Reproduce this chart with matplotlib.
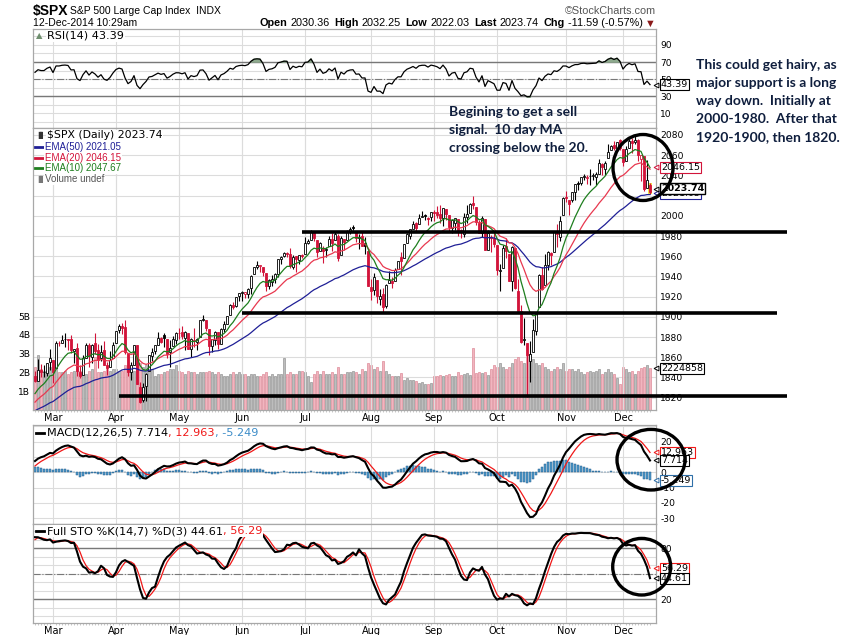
import numpy as np
import pandas as pd
import matplotlib
matplotlib.use("Agg")
import matplotlib.pyplot as plt
from matplotlib.patches import Ellipse
from matplotlib.lines import Line2D
from matplotlib.transforms import blended_transform_factory

plt.rcParams['font.family'] = ['DejaVu Sans']

# ---- warm-up closes (Oct 2013 - Feb 20 2014), only used to settle the indicators
warm_close = [1695.00, 1693.87, 1678.66, 1690.50, 1676.12, 1655.45, 1656.40, 1692.56, 1703.20, 1710.14, 1698.06,
              1721.54, 1733.15, 1744.50, 1744.66, 1754.67, 1746.38, 1752.07, 1759.77, 1762.11, 1771.95, 1763.31, 1756.54,
              1761.64, 1767.93, 1762.97, 1770.49, 1747.15, 1770.61, 1771.89, 1767.69, 1782.00, 1790.62, 1798.18,
              1791.53, 1787.87, 1781.37, 1795.85, 1804.76, 1802.48, 1802.75, 1807.23, 1805.81,
              1800.90, 1795.15, 1792.81, 1785.03, 1805.09, 1808.37, 1802.62, 1782.22, 1775.50, 1775.32, 1786.54,
              1781.00, 1810.65, 1809.60, 1818.32, 1827.99, 1833.32, 1842.02, 1841.40, 1841.07, 1848.36,
              1831.98, 1831.37, 1826.77, 1837.88, 1837.49, 1838.13, 1842.37, 1819.20, 1838.88, 1848.38, 1845.89,
              1838.70, 1843.80, 1844.86, 1828.46, 1790.29, 1781.56, 1792.50, 1774.20, 1794.19, 1782.59,
              1741.89, 1755.20, 1751.64, 1773.43, 1797.02, 1799.84, 1819.75, 1819.26, 1829.83, 1838.63, 1840.76,
              1828.75, 1839.78]
# highs / lows for the last 34 warm-up days (Jan 2 - Feb 20)
warm_high = [1845.86, 1838.24, 1837.16, 1840.10, 1840.02, 1843.23, 1843.15, 1843.45, 1839.26, 1850.84, 1849.31,
             1846.50, 1849.31, 1846.87, 1842.99, 1826.96, 1795.98, 1793.87, 1788.06, 1798.77, 1793.88,
             1784.83, 1758.73, 1755.79, 1774.06, 1798.03, 1799.94, 1823.54, 1826.56, 1830.25, 1841.65, 1842.87,
             1847.50, 1842.40]
warm_low = [1827.74, 1829.13, 1823.73, 1828.71, 1831.40, 1830.38, 1832.43, 1815.52, 1819.20, 1840.28, 1842.41,
            1835.23, 1832.38, 1840.88, 1820.06, 1790.29, 1772.88, 1781.82, 1770.45, 1783.54, 1772.26,
            1739.66, 1743.82, 1737.92, 1752.63, 1773.19, 1791.83, 1800.41, 1815.97, 1809.22, 1825.59, 1834.44,
            1826.99, 1824.92]

# ---- chart window: 21-Feb-2014 .. 12-Dec-2014
opens = [1841.07, 1836.78, 1847.66, 1845.79, 1844.90, 1855.12,
         1857.68, 1849.23, 1874.05, 1874.18, 1878.52, 1877.86, 1878.26, 1866.15, 1869.06, 1845.07, 1842.81,
         1858.92, 1872.25, 1860.09, 1874.53, 1867.67, 1859.48, 1867.09, 1852.11, 1850.07, 1859.16,
         1873.96, 1886.61, 1891.43, 1890.25, 1863.92, 1845.48, 1852.64, 1872.28, 1830.65, 1818.18, 1831.45,
         1846.01, 1861.73, 1865.79, 1872.57, 1879.32, 1881.97, 1877.72, 1865.00, 1870.78, 1877.10,
         1884.39, 1885.30, 1879.45, 1883.69, 1868.53, 1877.39, 1875.27, 1880.03, 1896.75, 1897.13, 1888.16,
         1871.19, 1876.66, 1884.88, 1873.34, 1888.19, 1893.32, 1902.01, 1911.77, 1910.60, 1920.33,
         1923.87, 1923.07, 1923.06, 1928.52, 1942.41, 1948.97, 1950.34, 1949.37, 1943.35, 1930.80, 1934.84,
         1937.15, 1942.73, 1957.50, 1960.45, 1962.92, 1961.97, 1949.27, 1959.89, 1956.56, 1960.79,
         1962.29, 1973.06, 1975.88, 1984.22, 1976.39, 1965.10, 1966.67, 1965.76, 1969.86, 1977.36, 1976.35,
         1979.75, 1961.54, 1976.93, 1975.65, 1985.32, 1988.07, 1984.60, 1978.25, 1980.03, 1973.21, 1965.14,
         1929.80, 1926.62, 1936.34, 1917.29, 1923.03, 1910.35, 1933.43, 1935.73, 1935.60, 1947.41, 1958.87,
         1958.36, 1972.73, 1980.46, 1986.82, 1992.60, 1991.74, 1998.59, 2000.54, 1997.42, 1998.45,
         2004.07, 2003.57, 2001.67, 1998.00, 2007.17, 2000.73, 1988.41, 1992.85, 1996.74, 1986.04, 1981.93,
         1999.30, 2003.07, 2012.74, 2009.08, 1992.78, 1983.34, 1997.32, 1966.22, 1978.96, 1978.21,
         1971.44, 1945.83, 1948.12, 1970.01, 1962.36, 1935.55, 1967.68, 1925.63, 1905.65, 1877.11, 1874.18,
         1855.95, 1864.91, 1885.62, 1909.38, 1941.29, 1931.02, 1951.59, 1962.97, 1964.14, 1983.29, 1979.49, 2001.20,
         2018.21, 2015.81, 2015.29, 2023.33, 2032.36, 2032.01, 2038.20, 2037.75, 2039.21, 2039.74, 2038.29,
         2041.48, 2051.16, 2045.87, 2057.46, 2065.07, 2070.15, 2067.36, 2074.78,
         2065.78, 2053.77, 2067.45, 2073.64, 2072.78, 2074.84, 2056.55, 2058.86, 2027.92, 2030.36]
highs = [1846.13, 1858.71, 1852.91, 1852.65, 1854.53, 1867.92,
         1857.68, 1876.23, 1876.53, 1881.94, 1883.57, 1877.87, 1882.35, 1868.38, 1874.40, 1852.44, 1862.30,
         1873.76, 1874.14, 1873.49, 1883.97, 1873.34, 1871.87, 1875.92, 1855.55, 1866.63, 1875.18,
         1885.84, 1893.17, 1893.80, 1897.28, 1864.04, 1854.95, 1872.43, 1872.53, 1835.07, 1834.19, 1844.02,
         1862.31, 1869.63, 1871.89, 1884.89, 1879.75, 1884.06, 1877.72, 1877.01, 1880.60, 1885.20,
         1888.59, 1891.33, 1885.51, 1883.69, 1878.83, 1889.07, 1878.57, 1897.13, 1902.17, 1897.13, 1888.16,
         1878.28, 1886.00, 1884.88, 1888.80, 1896.33, 1901.26, 1912.28, 1914.46, 1920.03, 1924.03,
         1925.88, 1925.07, 1928.63, 1941.74, 1949.44, 1955.55, 1950.86, 1949.37, 1943.35, 1937.30, 1941.15,
         1943.69, 1957.74, 1959.87, 1963.91, 1963.74, 1968.17, 1960.83, 1959.89, 1961.47, 1962.29,
         1978.58, 1976.67, 1985.59, 1984.22, 1976.39, 1974.15, 1969.84, 1968.67, 1979.85, 1982.52, 1983.94,
         1981.80, 1979.91, 1976.93, 1986.24, 1989.23, 1991.39, 1984.60, 1981.52, 1984.85, 1978.90, 1965.14,
         1937.35, 1942.92, 1936.34, 1927.91, 1928.89, 1932.38, 1944.90, 1939.65, 1948.41, 1955.23, 1964.04,
         1971.99, 1982.57, 1986.61, 1994.76, 1993.54, 2001.95, 2005.04, 2002.14, 1998.55, 2003.38,
         2006.12, 2009.28, 2011.17, 2007.71, 2007.17, 2001.01, 1996.66, 1997.65, 1996.74, 1987.18, 2002.28,
         2010.74, 2012.34, 2019.26, 2009.08, 1995.41, 1999.79, 1997.32, 1986.37, 1981.28, 1985.17,
         1971.44, 1952.32, 1971.19, 1977.84, 1962.36, 1970.36, 1967.68, 1936.98, 1912.09, 1898.71, 1874.18,
         1876.01, 1898.16, 1905.03, 1942.45, 1949.31, 1961.95, 1965.27, 1964.64, 1985.05, 1991.40, 1999.40, 2018.19,
         2024.46, 2015.98, 2023.77, 2031.61, 2034.26, 2038.70, 2041.28, 2040.33, 2046.18, 2042.22, 2043.07,
         2056.08, 2052.14, 2053.84, 2071.46, 2070.17, 2074.21, 2073.29, 2075.76,
         2065.78, 2068.77, 2076.28, 2077.34, 2079.47, 2075.78, 2060.60, 2058.86, 2055.53, 2032.25]
lows = [1835.60, 1836.78, 1840.19, 1840.66, 1841.13, 1847.67,
        1834.44, 1849.23, 1871.11, 1874.18, 1870.56, 1867.04, 1863.88, 1854.38, 1841.86, 1839.57, 1842.81,
        1858.92, 1850.35, 1854.63, 1863.46, 1849.69, 1855.96, 1852.56, 1842.11, 1850.07, 1859.16,
        1873.96, 1883.79, 1882.65, 1863.26, 1841.48, 1837.49, 1852.38, 1833.08, 1814.36, 1815.80, 1816.29,
        1846.01, 1856.72, 1863.18, 1872.57, 1873.91, 1870.24, 1859.70, 1850.61, 1870.78, 1872.69,
        1878.04, 1878.50, 1866.77, 1867.72, 1859.79, 1870.05, 1867.02, 1880.03, 1896.06, 1885.77, 1862.36,
        1864.82, 1872.42, 1868.14, 1873.34, 1885.39, 1893.32, 1902.01, 1907.30, 1909.82, 1915.65,
        1915.98, 1918.79, 1918.60, 1922.93, 1942.41, 1947.16, 1944.64, 1940.08, 1925.78, 1927.69, 1930.91,
        1933.55, 1939.29, 1952.26, 1959.17, 1958.89, 1948.34, 1947.49, 1944.69, 1952.18, 1957.83,
        1962.29, 1972.58, 1975.88, 1974.88, 1959.46, 1965.10, 1952.86, 1959.63, 1969.86, 1965.34, 1975.67,
        1955.59, 1960.82, 1965.77, 1975.65, 1982.44, 1985.79, 1974.37, 1967.31, 1969.95, 1962.42, 1930.67,
        1916.37, 1921.20, 1913.77, 1911.45, 1904.78, 1909.01, 1933.43, 1928.29, 1935.60, 1947.41, 1941.50,
        1958.36, 1972.73, 1976.67, 1986.82, 1984.76, 1991.74, 1998.59, 1996.20, 1990.52, 1994.65,
        1994.85, 1998.14, 1992.54, 1990.10, 1995.60, 1984.61, 1982.99, 1985.93, 1980.26, 1978.48, 1979.06,
        1993.29, 2003.07, 2006.59, 1991.01, 1982.77, 1978.63, 1965.99, 1966.22, 1964.04, 1968.96,
        1941.72, 1926.03, 1948.12, 1958.43, 1935.10, 1925.25, 1927.56, 1906.05, 1874.14, 1871.79, 1820.66,
        1835.02, 1864.91, 1882.30, 1909.38, 1926.83, 1931.02, 1946.27, 1951.37, 1964.14, 1969.04, 1974.75, 2001.20,
        2013.68, 2001.01, 2014.11, 2015.86, 2025.07, 2030.17, 2035.28, 2031.95, 2030.44, 2035.20, 2030.20,
        2041.48, 2040.37, 2040.49, 2056.75, 2065.07, 2064.75, 2066.62, 2065.06,
        2049.57, 2053.77, 2066.65, 2062.34, 2070.81, 2054.27, 2034.17, 2024.26, 2027.92, 2022.03]
closes = [1836.25, 1847.61, 1845.12, 1845.16, 1854.29, 1859.45,
          1845.73, 1873.91, 1873.81, 1877.03, 1878.04, 1877.17, 1867.63, 1868.20, 1846.34, 1841.13, 1858.83,
          1872.25, 1860.77, 1872.01, 1866.52, 1857.44, 1865.62, 1852.56, 1849.04, 1857.62, 1872.34,
          1885.52, 1890.90, 1888.77, 1865.09, 1845.04, 1851.96, 1872.18, 1833.08, 1815.69, 1830.61, 1842.98,
          1862.31, 1864.85, 1871.89, 1879.55, 1875.39, 1878.61, 1863.40, 1869.43, 1878.33, 1883.95,
          1883.68, 1881.14, 1884.66, 1867.72, 1878.21, 1875.63, 1878.48, 1896.65, 1897.45, 1888.53, 1870.85,
          1877.86, 1885.08, 1872.83, 1888.03, 1892.49, 1900.53, 1911.91, 1909.78, 1920.03, 1923.57,
          1924.97, 1924.24, 1927.88, 1940.46, 1949.44, 1951.27, 1950.79, 1943.89, 1930.11, 1936.16, 1937.78,
          1941.99, 1956.98, 1959.48, 1962.87, 1962.61, 1949.98, 1959.53, 1957.22, 1960.96, 1960.23,
          1973.32, 1974.62, 1985.44, 1977.65, 1963.71, 1972.83, 1964.68, 1967.57, 1977.10, 1973.28, 1981.57,
          1958.12, 1978.22, 1973.63, 1983.53, 1987.01, 1987.98, 1978.34, 1978.91, 1969.95, 1970.07, 1930.67,
          1925.15, 1938.99, 1920.21, 1920.24, 1909.57, 1931.59, 1936.92, 1933.75, 1946.72, 1955.18, 1955.06,
          1971.74, 1981.60, 1986.51, 1992.37, 1988.40, 1997.92, 2000.02, 2000.12, 1996.74, 2003.37,
          2002.28, 2000.72, 1997.65, 2007.71, 2001.54, 1988.44, 1995.69, 1997.45, 1985.54, 1984.13, 1998.98,
          2001.57, 2011.36, 2010.40, 1994.29, 1982.77, 1998.30, 1965.99, 1982.85, 1977.80, 1972.29,
          1946.16, 1946.17, 1967.90, 1964.82, 1935.10, 1968.89, 1928.21, 1906.13, 1874.74, 1877.70, 1862.49,
          1862.76, 1886.76, 1904.01, 1941.28, 1927.11, 1950.82, 1964.58, 1961.63, 1985.05, 1982.30, 1994.65, 2018.05,
          2017.81, 2012.10, 2023.57, 2031.21, 2031.92, 2038.26, 2039.68, 2038.25, 2039.33, 2039.82, 2041.32,
          2051.80, 2048.72, 2052.75, 2063.50, 2069.41, 2067.03, 2072.83, 2067.56,
          2053.44, 2066.55, 2074.33, 2071.92, 2075.37, 2060.31, 2059.82, 2026.14, 2035.33, 2023.74]
# volume in billions
volume = [2.3, 2.9, 2.2, 2.1, 2.1, 2.3,
          2.2, 2.3, 2.0, 2.0, 2.1, 1.9, 2.0, 2.1, 2.2, 2.1, 2.0, 1.9, 2.1, 2.2, 2.8, 2.0, 2.0, 2.1, 2.2, 2.1, 2.2,
          2.2, 2.1, 2.1, 2.4, 2.4, 2.2, 2.1, 2.5, 2.5, 2.3, 2.4, 2.3, 2.2, 1.8, 1.9, 1.9, 2.0, 2.1, 2.2, 2.2, 2.4,
          2.1, 2.0, 1.9, 2.1, 2.0, 2.0, 1.9, 2.0, 2.0, 2.0, 2.1, 2.0, 1.9, 2.0, 1.9, 1.8, 1.8, 1.9, 2.0, 1.9, 2.0,
          1.9, 1.9, 1.8, 1.9, 1.9, 1.8, 1.8, 1.9, 2.0, 1.8, 1.9, 1.8, 1.9, 1.9, 2.75, 1.9, 2.0, 1.9, 1.9, 2.1, 2.1,
          2.0, 1.8, 1.5, 1.9, 2.1, 1.9, 2.1, 1.9, 1.9, 2.0, 1.9, 2.3, 1.9, 1.9, 2.0, 2.0, 2.1, 2.0, 1.9, 2.2, 2.1, 2.5,
          2.4, 2.2, 2.3, 2.1, 2.6, 2.1, 1.9, 1.8, 1.8, 1.8, 1.95, 1.6, 1.7, 1.6, 1.6, 1.55, 1.45, 1.5, 1.4, 1.4, 1.45,
          1.8, 1.8, 1.85, 1.8, 1.85, 1.9, 1.8, 1.8, 2.0, 1.85, 1.9, 1.95, 1.85, 3.28, 1.95, 2.0, 1.95, 2.0, 1.85, 2.2, 2.4,
          2.3, 2.5, 2.3, 2.2, 2.3, 2.5, 2.7, 2.8, 2.6, 2.5, 2.9, 3.0, 2.7, 2.5, 2.4, 2.5, 2.3, 2.2, 2.1, 2.2, 2.3, 2.2, 2.5,
          2.1, 2.2, 2.2, 2.1, 2.2, 2.0, 1.9, 2.0, 2.1, 2.0, 2.1, 2.2, 1.9, 2.0, 2.2, 2.0, 1.9, 1.7, 1.4,
          2.3, 2.2, 2.0, 2.1, 1.9, 2.1, 2.25, 2.3, 2.4, 2.2249]

holidays = ['2014-04-18', '2014-05-26', '2014-07-04', '2014-09-01', '2014-11-27']
dates = pd.bdate_range('2014-02-21', '2014-12-12')
dates = dates[~dates.isin(pd.to_datetime(holidays))]

# last values as printed on the chart
rsi_last = 43.39
ema_last = {50: 2021.05, 20: 2046.15, 10: 2047.67}
macd_last = [7.714, 12.963, -5.249]
sto_last = [44.61, 56.29]
support_levels = [1984, 1904, 1822]
support_from = ['2014-06-30', '2014-06-02', '2014-04-02']

# ---- indicators
nw = len(warm_close)
full = pd.DataFrame({
    'close': warm_close + closes,
    'high': [np.nan] * (nw - len(warm_high)) + warm_high + highs,
    'low': [np.nan] * (nw - len(warm_low)) + warm_low + lows,
})
c = full['close']
n = len(closes)
ema = {p: c.ewm(span=p, adjust=False).mean().values[-n:] for p in (10, 20, 50)}
d = c.diff()
gain = d.clip(lower=0).ewm(alpha=1 / 14, adjust=False).mean()
loss = (-d.clip(upper=0)).ewm(alpha=1 / 14, adjust=False).mean()
rsi = (100 - 100 / (1 + gain / loss)).values[-n:]
macd_s = c.ewm(span=12, adjust=False).mean() - c.ewm(span=26, adjust=False).mean()
sig_s = macd_s.ewm(span=5, adjust=False).mean()
macd = macd_s.values[-n:]
sig = sig_s.values[-n:]
hist = macd - sig
hh = full['high'].rolling(14).max()
ll = full['low'].rolling(14).min()
fastk = 100 * (c - ll) / (hh - ll)
pk = fastk.rolling(7).mean()
pd3 = pk.rolling(3).mean()
stok = pk.values[-n:]
stod = pd3.values[-n:]

o = np.array(opens); h = np.array(highs); l = np.array(lows); cl = np.array(closes)
prevc = c.values[-n - 1:-1]
x = np.arange(n)

RED = '#D2143A'
NAVY = '#1F1F96'
EMARED = '#E8384F'
GREEN = '#1E7E1E'
GRID = '#DCDCDC'
EDGE = '#A8A8A8'

W, H = 845, 635
fig = plt.figure(figsize=(W / 100, H / 100), dpi=100)


def rect(top, bottom):
    return [33 / W, 1 - bottom / H, (656 - 33) / W, (bottom - top) / H]


def fy(ypx):
    return 1 - ypx / H


month_idx = [i for i in range(1, n) if dates[i].month != dates[i - 1].month]
month_lab = [dates[i].strftime('%b') for i in month_idx]
XL = (-0.67, 207)


def base(ax, ylim, grid_levels, ticks, labels=None):
    ax.set_xlim(*XL)
    ax.set_ylim(*ylim)
    for s in ax.spines.values():
        s.set_color(EDGE)
        s.set_linewidth(0.9)
    for m in month_idx:
        ax.axvline(m, color=GRID, lw=0.8, zorder=0)
    for g in grid_levels:
        ax.axhline(g, color=GRID, lw=0.8, zorder=0)
    ax.yaxis.tick_right()
    ax.set_yticks(ticks)
    ax.set_yticklabels(labels if labels else [str(t) for t in ticks])
    ax.tick_params(axis='y', length=0, labelsize=6.6, pad=3)
    ax.set_xticks(month_idx)
    ax.set_xticklabels(month_lab)
    ax.tick_params(axis='x', length=0, labelsize=7, pad=2)
    ax.set_xticks(x, minor=True)
    ax.tick_params(axis='x', which='minor', length=1.5, width=0.5, color='#B0B0B0')


def tag(ax, val, text, ec, bold=False, ytrans=None):
    tr = blended_transform_factory(ax.transAxes, ytrans if ytrans is not None else ax.transData)
    ax.annotate(text, xy=(1.0, val), xycoords=tr, xytext=(3.5, 0), textcoords='offset points',
                ha='left', va='center', fontsize=6.8, fontweight='bold' if bold else 'normal',
                bbox=dict(boxstyle='square,pad=0.12', fc='white', ec=ec, lw=1.0 if bold else 0.8),
                annotation_clip=False, zorder=6)
    ax.plot([1.0], [val], marker='<', ms=3.5, mfc='white', mec=ec, mew=0.7, transform=tr,
            clip_on=False, zorder=7)


# ---- RSI panel
ax_rsi = fig.add_axes(rect(29, 128))
base(ax_rsi, (-7.6, 108.8), range(0, 101, 10), [10, 30, 50, 70, 90])
ax_rsi.set_xticklabels([])
ax_rsi.tick_params(axis='x', which='minor', length=0)
ax_rsi.axhline(70, color='#787878', lw=1.0, zorder=1)
ax_rsi.axhline(30, color='#787878', lw=1.0, zorder=1)
ax_rsi.axhline(50, color='#787878', lw=0.8, ls='-.', zorder=1)
ax_rsi.fill_between(x, rsi, 70, where=rsi > 70, interpolate=True, color='#8DA98D', zorder=2)
ax_rsi.fill_between(x, rsi, 30, where=rsi < 30, interpolate=True, color='#8DA98D', zorder=2)
ax_rsi.plot(x, rsi, color='black', lw=0.9, zorder=3)
tag(ax_rsi, rsi_last, f'{rsi_last:.2f}', 'black')

# ---- volume (under the price panel)
ax_vol = fig.add_axes(rect(128, 410))
ax_vol.set_xlim(*XL)
ax_vol.set_ylim(0, 15.0)
vol_up = cl >= prevc
ax_vol.bar(x, volume, width=0.85, color=np.where(vol_up, '#BDBDBD', '#F1B5BF'),
           edgecolor=np.where(vol_up, '#979797', '#DE8C9A'), linewidth=0.5, zorder=1)
ax_vol.set_yticks([1, 2, 3, 4, 5])
ax_vol.set_yticklabels(['1B', '2B', '3B', '4B', '5B'])
ax_vol.tick_params(axis='y', length=0, labelsize=6.6, pad=2)
ax_vol.set_xticks([])
for s in ax_vol.spines.values():
    s.set_visible(False)
for m in month_idx:
    ax_vol.axvline(m, color=GRID, lw=0.8, zorder=0)
for g in range(1820, 2081, 20):
    ax_vol.axhline((g - 1807.8) / (2086.9 - 1807.8) * 15.0, color=GRID, lw=0.8, zorder=0)

# ---- price panel
ax_px = fig.add_axes(rect(128, 410))
ax_px.patch.set_visible(False)
base(ax_px, (1807.8, 2086.9), [], list(range(1820, 2081, 20)))
col = np.where(cl < prevc, RED, 'black')
hollow = cl >= o
ax_px.vlines(x, l, h, colors=col, lw=0.8, zorder=3)
ax_px.bar(x[-1], abs(cl[-1] - o[-1]) + 4, bottom=min(cl[-1], o[-1]) - 2, width=1.3, color='#F5E642', zorder=2.9)
ax_px.bar(x, np.maximum(np.abs(cl - o), 0.5), bottom=np.minimum(o, cl), width=0.72,
          color=np.where(hollow, 'white', col), edgecolor=col, linewidth=0.6, zorder=4)
ax_px.plot(x, ema[50], color=NAVY, lw=0.9, zorder=5)
ax_px.plot(x, ema[20], color=EMARED, lw=0.9, zorder=5)
ax_px.plot(x, ema[10], color=GREEN, lw=0.9, zorder=5)

for lvl, start, xend in zip(support_levels, support_from, [250.7, 247.3, 250.7]):
    xs = int(np.where(dates == pd.Timestamp(start))[0][0])
    ax_px.plot([xs, xend], [lvl, lvl], color='black', lw=2.6, solid_capstyle='butt', clip_on=False, zorder=8)

tag(ax_px, ema_last[20] + 2, f'{ema_last[20]:.2f}', RED)
tag(ax_px, ema_last[50] + 1.5, f'{ema_last[50]:.2f}', NAVY)
tag(ax_px, closes[-1] + 3, f'{closes[-1]:.2f}', 'black', bold=True)
tag(ax_px, volume[-1], '2224858', 'black', ytrans=ax_vol.transData)

# ---- MACD panel
ax_macd = fig.add_axes(rect(425, 524))
base(ax_macd, (-33.8, 30.9), range(-30, 31, 10), [20, 10, 0, -10, -20, -30])
ax_macd.set_xticklabels([])
ax_macd.tick_params(axis='x', which='minor', length=0)
ax_macd.bar(x, hist, width=0.9, color='#4F9ACB', edgecolor='#245E8C', linewidth=0.35, zorder=2)
ax_macd.plot(x, sig, color='#F01818', lw=0.9, zorder=3)
ax_macd.plot(x, macd, color='black', lw=1.5, zorder=4)
tag(ax_macd, macd_last[1], f'{macd_last[1]:.3f}', '#F01818')
tag(ax_macd, macd_last[0], f'{macd_last[0]:.3f}', 'black')
tag(ax_macd, macd_last[2], f'{macd_last[2]:.3f}', '#2F6FA8')

# ---- Full stochastics panel
ax_sto = fig.add_axes(rect(524, 623))
base(ax_sto, (-7.9, 108.6), range(0, 101, 10), [80, 50, 20])
ax_sto.axhline(80, color='#787878', lw=1.0, zorder=1)
ax_sto.axhline(20, color='#787878', lw=1.0, zorder=1)
ax_sto.axhline(50, color='#787878', lw=0.8, ls='-.', zorder=1)
ax_sto.plot(x, stod, color='#F01818', lw=0.9, zorder=3)
ax_sto.plot(x, stok, color='black', lw=1.5, zorder=4)
tag(ax_sto, sto_last[1], f'{sto_last[1]:.2f}', '#F01818')
tag(ax_sto, sto_last[0], f'{sto_last[0]:.2f}', 'black')


# ---- text
def chain(ax, pieces, x0, y0, right=False, size=7.5, family='Liberation Sans', bg=False):
    # each piece: (text, weight, colour, gap to the piece on its left)
    seq = list(reversed(pieces)) if right else pieces
    prev = None
    prev_gap = 0
    for s, wt, colr, gap in seq:
        kw = dict(fontsize=size, fontweight=wt, color=colr, family=family, va='center',
                  ha='right' if right else 'left', annotation_clip=False, zorder=9)
        if bg:
            kw['bbox'] = dict(fc='white', ec='none', pad=0.4)
        if prev is None:
            prev = ax.annotate(s, xy=(x0, H - y0), xycoords='figure pixels', **kw)
        elif right:
            prev = ax.annotate(s, xy=(0, 0.5), xycoords=prev, xytext=(-prev_gap, 0),
                               textcoords='offset points', **kw)
        else:
            prev = ax.annotate(s, xy=(1, 0.5), xycoords=prev, xytext=(gap, 0),
                               textcoords='offset points', **kw)
        prev_gap = gap


fig.text(33 / W, fy(10.5), '$SPX', fontsize=10, fontweight='bold', family='Liberation Sans', va='center')
fig.text(70 / W, fy(10.5), 'S&P 500 Large Cap Index  INDX', fontsize=7.5, family='Liberation Sans', va='center')
fig.text(33 / W, fy(23.5), '12-Dec-2014 10:29am', fontsize=7.5, family='Liberation Sans', va='center')
fig.text(656 / W, fy(10.5), '\u00a9StockCharts.com', fontsize=7.8, family='Liberation Sans', va='center',
         ha='right', color='#555555')
chain(ax_rsi, [('Open', 'bold', 'black', 0), ('2030.36', 'normal', 'black', 2.2), ('High', 'bold', 'black', 3.5),
               ('2032.25', 'normal', 'black', 2.2), ('Low', 'bold', 'black', 3.5), ('2022.03', 'normal', 'black', 2.2),
               ('Last', 'bold', 'black', 3.5), ('2023.74', 'normal', 'black', 2.2), ('Chg', 'bold', 'black', 3.5),
               ('-11.59 (-0.57%)', 'normal', 'black', 2.2), ('\u25bc', 'normal', '#8B1A1A', 1.5)],
      656, 23.5, right=True, size=7.8, family=['Liberation Sans', 'DejaVu Sans'])

LEG = 8.1
fig.text(36 / W, fy(36), '\u25b2', fontsize=6, color='#6E8E6E', va='center')
fig.text(47 / W, fy(36), 'RSI(14) 43.39', fontsize=LEG, va='center',
         bbox=dict(fc='white', ec='none', pad=0.5))
fig.text(35 / W, fy(135.5), '\u2590\u258c', fontsize=5, color='#333333', va='center')
fig.text(47 / W, fy(135.5), '$SPX (Daily) 2023.74', fontsize=7.8, va='center',
         bbox=dict(fc='white', ec='none', pad=0.5))
for yy, txt, colr in [(146.7, 'EMA(50) 2021.05', NAVY), (157.7, 'EMA(20) 2046.15', RED),
                      (168.3, 'EMA(10) 2047.67', GREEN)]:
    fig.add_artist(Line2D([35 / W, 44 / W], [fy(yy), fy(yy)], color=colr, lw=2))
    fig.text(45 / W, fy(yy), txt, fontsize=7, family='Liberation Sans', color=colr, va='center',
             bbox=dict(fc='white', ec='none', pad=0.5))
fig.text(35 / W, fy(179), '\u2590\u258c', fontsize=5, color='#777777', va='center')
fig.text(45 / W, fy(179), 'Volume undef', fontsize=7, family='Liberation Sans', color='#555555', va='center',
         bbox=dict(fc='white', ec='none', pad=0.5))

fig.add_artist(Line2D([36 / W, 44 / W], [fy(432.7), fy(432.7)], color='black', lw=2))
chain(ax_macd, [('MACD(12,26,5) 7.714', 'normal', 'black', 0), (', 12.963', 'normal', '#F01818', 0),
                (', -5.249', 'normal', '#3C8CC8', 0)], 47, 432.7, size=LEG, family='DejaVu Sans', bg=True)
fig.add_artist(Line2D([36 / W, 44 / W], [fy(531), fy(531)], color='black', lw=2))
chain(ax_sto, [('Full STO %K(14,7) %D(3) 44.61', 'normal', 'black', 0), (', 56.29', 'normal', '#F01818', 0)],
      47, 531, size=LEG, family='DejaVu Sans', bg=True)

NOTE = '#0F1E3D'
note1 = ['Begining to get a sell', 'signal.  10 day MA', 'crossing below the 20.']
for k, s in enumerate(note1):
    fig.text(449 / W, fy(112 + 18 * k), s, fontsize=10, fontweight='bold', family='Lato',
             color=NOTE, va='center')
note2 = ['This could get hairy, as', 'major support is a long', 'way down.  Initially at',
         '2000-1980.  After that', '1920-1900, then 1820.']
for k, s in enumerate(note2):
    fig.text(696 / W, fy(65 + 18 * k), s, fontsize=10, fontweight='bold', family='Lato',
             color=NOTE, va='center')

for cx, cy, rx, ry in [(643, 167.5, 30, 33), (651, 459.7, 34, 30.3), (641.7, 566.7, 29, 28.3)]:
    fig.add_artist(Ellipse((cx / W, fy(cy)), 2 * rx / W, 2 * ry / H, transform=fig.transFigure,
                           fill=False, ec='black', lw=2.4, zorder=20))

fig.savefig('out.png', dpi=100)
